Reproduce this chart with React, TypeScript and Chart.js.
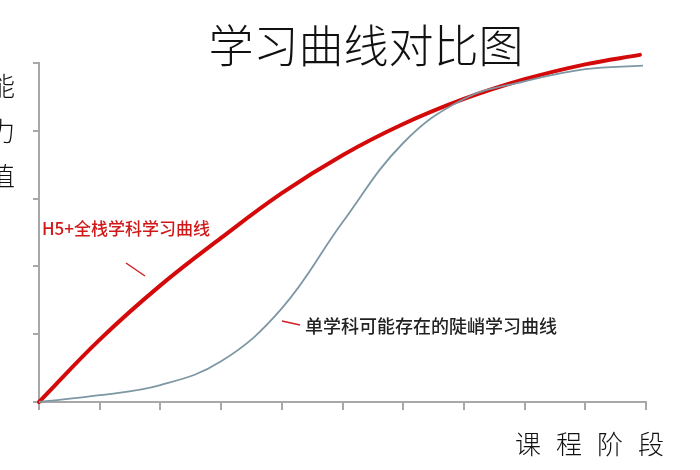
import React, { useEffect, useRef } from "react";
import { Chart, registerables } from "chart.js";

Chart.register(...registerables);

// course stages on x (0..10), ability value on y (0..5)
const fullStackStages = [0, 1, 2, 3, 4, 5, 6, 7, 8, 9, 9.9];
const fullStackValues = [0, 0.92, 1.72, 2.42, 3.08, 3.64, 4.1, 4.47, 4.76, 4.98, 5.12];
const singleStages = [0, 1, 2, 3, 4, 5, 6, 7, 8, 9, 9.95];
const singleValues = [0, 0.1, 0.25, 0.6, 1.38, 2.65, 3.82, 4.47, 4.73, 4.91, 4.96];

const titleText = "学习曲线对比图";
const yLabelChars = ["能", "力", "值"];
const xLabelChars = ["课", "程", "阶", "段"];
const fullStackLabel = "H5+全栈学科学习曲线";
const singleLabel = "单学科可能存在的陡峭学习曲线";

const CJK = '"Noto Sans CJK SC", "Noto Sans", sans-serif';

const textPlugin = {
  id: "textPlugin",
  afterDraw(chart: any) {
    const ctx = chart.ctx as CanvasRenderingContext2D;
    ctx.save();
    ctx.textAlign = "center";
    ctx.textBaseline = "middle";

    // title
    ctx.fillStyle = "#111";
    ctx.font = `300 45px ${CJK}`;
    ctx.fillText(titleText, 366, 46);

    // y axis label, stacked, cut at left edge
    ctx.font = `300 26px ${CJK}`;
    yLabelChars.forEach((c, i) => ctx.fillText(c, 2, 86 + i * 45));

    // x axis label
    xLabelChars.forEach((c, i) => ctx.fillText(c, 528 + i * 41, 444));

    // annotations
    ctx.textAlign = "left";
    ctx.font = `500 17px ${CJK}`;
    ctx.fillStyle = "#d01818";
    ctx.fillText(fullStackLabel, 42, 229);
    ctx.font = `500 18px ${CJK}`;
    ctx.fillStyle = "#222";
    ctx.fillText(singleLabel, 305, 326);

    // leader lines
    ctx.strokeStyle = "#d0202a";
    ctx.lineWidth = 1.5;
    ctx.beginPath();
    ctx.moveTo(126, 263);
    ctx.lineTo(145, 276);
    ctx.moveTo(282, 321);
    ctx.lineTo(300, 325);
    ctx.stroke();
    ctx.restore();
  },
};

const LearningCurves = () => {
  const ref = useRef<HTMLCanvasElement | null>(null);

  useEffect(() => {
    if (!ref.current) return;
    const chart = new Chart(ref.current, {
      type: "line",
      data: {
        datasets: [
          {
            label: "single",
            data: singleStages.map((x, i) => ({ x, y: singleValues[i] })),
            borderColor: "#7d97a3",
            borderWidth: 1.8,
            pointRadius: 0,
            tension: 0.4,
            clip: false as any,
          },
          {
            label: "fullstack",
            data: fullStackStages.map((x, i) => ({ x, y: fullStackValues[i] })),
            borderColor: "#d40a0a",
            borderWidth: 4,
            pointRadius: 0,
            tension: 0.4,
            borderCapStyle: "round",
            clip: false as any,
          },
        ],
      },
      options: {
        responsive: false,
        animation: false,
        devicePixelRatio: 1,
        layout: { padding: { top: 63, left: 33, right: 54, bottom: 60 } },
        plugins: { legend: { display: false }, tooltip: { enabled: false } },
        scales: {
          x: {
            type: "linear",
            min: 0,
            max: 10,
            ticks: { display: false, stepSize: 1 },
            grid: { drawOnChartArea: false, drawTicks: true, tickLength: 8, color: "#a8a8a8", lineWidth: 2 },
            border: { color: "#a8a8a8", width: 2 },
          },
          y: {
            min: 0,
            max: 5,
            ticks: { display: false, stepSize: 1 },
            grid: { drawOnChartArea: false, drawTicks: true, tickLength: 6, color: "#a8a8a8", lineWidth: 2 },
            border: { color: "#a8a8a8", width: 2 },
          },
        },
      },
      plugins: [textPlugin],
    });
    return () => chart.destroy();
  }, []);

  return <canvas ref={ref} width={700} height={470} />;
};

export default function App() {
  return (
    <div style={{ position: "absolute", left: 0, top: 0, width: 700, height: 470, background: "#fff" }}>
      <LearningCurves />
    </div>
  );
}
